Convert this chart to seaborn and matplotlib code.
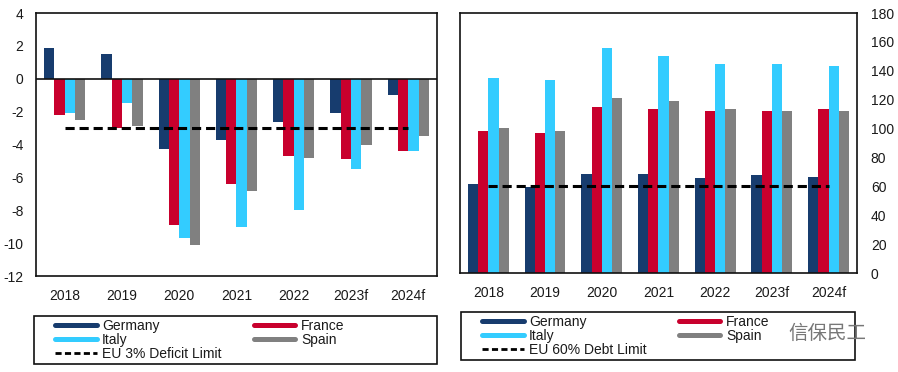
import pandas as pd
import seaborn as sns
import matplotlib.pyplot as plt
import numpy as np
from matplotlib.lines import Line2D
from matplotlib.patches import Rectangle

# data
years = ['2018', '2019', '2020', '2021', '2022', '2023f', '2024f']
countries = ['Germany', 'France', 'Italy', 'Spain']

# budget balance, % GDP
deficit_germany = [1.9, 1.5, -4.3, -3.7, -2.6, -2.1, -1.0]
deficit_france = [-2.2, -3.0, -8.9, -6.4, -4.7, -4.9, -4.4]
deficit_italy = [-2.1, -1.5, -9.7, -9.0, -8.0, -5.5, -4.4]
deficit_spain = [-2.5, -2.9, -10.1, -6.8, -4.8, -4.0, -3.5]
eu_deficit_limit = [-3, -3, -3, -3, -3, -3, -3]

# public debt, % GDP
debt_germany = [61.6, 59.6, 68.7, 68.7, 65.8, 67.6, 66.7]
debt_france = [98.3, 97.2, 114.7, 113.5, 112.4, 112.4, 113.5]
debt_italy = [134.8, 133.8, 155.5, 150.0, 144.9, 144.9, 143.5]
debt_spain = [100.4, 98.3, 120.9, 118.8, 113.5, 112.4, 112.4]
eu_debt_limit = [60, 60, 60, 60, 60, 60, 60]

barvy = {'Germany': '#173C6E', 'France': '#C8002D', 'Italy': '#33CCFF', 'Spain': '#808080'}

def long_table(g, f, i, s):
    df = pd.DataFrame({'Year': years, 'Germany': g, 'France': f, 'Italy': i, 'Spain': s})
    return df.melt(id_vars='Year', var_name='Country', value_name='Value')

deficit = long_table(deficit_germany, deficit_france, deficit_italy, deficit_spain)
debt = long_table(debt_germany, debt_france, debt_italy, debt_spain)

sns.set_style('white')
plt.rcParams['font.family'] = ['Liberation Sans', 'Noto Sans CJK SC', 'DejaVu Sans']
plt.rcParams['axes.unicode_minus'] = False

fig = plt.figure(figsize=(8.98, 3.72), dpi=100)
ax1 = fig.add_axes([0.0401, 0.258, 0.4465, 0.707])
ax2 = fig.add_axes([0.5122, 0.266, 0.442, 0.699])

txt = '#1a1a1a'

def draw(ax, data, limit, ylim, yticks):
    sns.barplot(data=data, x='Year', y='Value', hue='Country', hue_order=countries,
                palette=barvy, saturation=1, width=0.72, ax=ax, legend=False,
                linewidth=0)
    ax.plot(np.arange(len(years)), limit, color='black', lw=2.2,
            linestyle=(0, (3, 1.6)), zorder=5)
    ax.set_ylim(*ylim)
    ax.set_yticks(yticks)
    ax.set_xlim(-0.5, len(years) - 0.5)
    ax.set_xlabel('')
    ax.set_ylabel('')
    for sp in ax.spines.values():
        sp.set_visible(True)
        sp.set_color('#111111')
        sp.set_linewidth(1.2)
    ax.tick_params(axis='both', length=0, labelsize=10, colors=txt)
    ax.tick_params(axis='x', pad=9)
    ax.tick_params(axis='y', pad=9)

draw(ax1, deficit, eu_deficit_limit, (-12, 4), np.arange(-12, 5, 2))
ax1.axhline(0, color='#111111', lw=1.2, zorder=4)

draw(ax2, debt, eu_debt_limit, (0, 180), np.arange(0, 181, 20))
ax2.yaxis.tick_right()
ax2.tick_params(axis='y', length=0, pad=10)

# legendy pod grafy
def legenda(x0, y0, w, h, limit_label):
    handles = [Line2D([], [], color=barvy['Germany'], lw=3.6),
               Line2D([], [], color=barvy['Italy'], lw=3.6),
               Line2D([], [], color='black', lw=2, linestyle=(0, (2.2, 1.2))),
               Line2D([], [], color=barvy['France'], lw=3.6),
               Line2D([], [], color=barvy['Spain'], lw=3.6)]
    labels = ['Germany', 'Italy', limit_label, 'France', 'Spain']
    fig.patches.append(Rectangle((x0 / 898, 1 - (y0 + h) / 372), w / 898, h / 372,
                                 transform=fig.transFigure, fill=False,
                                 edgecolor='#111111', lw=1.2))
    fig.legend(handles, labels, ncol=2, loc='upper left',
               bbox_to_anchor=((x0 + 14) / 898, 1 - (y0 - 4) / 372),
               frameon=False, fontsize=10, handlelength=3.0, handletextpad=0.4,
               columnspacing=2.3, labelspacing=0.0, borderpad=0.0,
               labelcolor=txt)

legenda(34, 316, 403, 48, 'EU 3% Deficit Limit')
legenda(461, 312, 394, 48, 'EU 60% Debt Limit')

fig.text(0.965, 1 - 333 / 372, '信保民工', fontsize=14, color='#777777',
         ha='right', va='center', family=['Noto Sans CJK SC'])

fig.savefig('out.png', dpi=100)
